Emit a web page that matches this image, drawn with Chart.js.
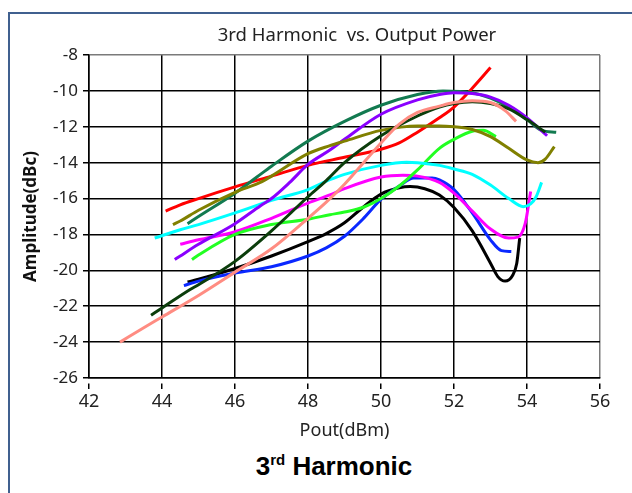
<!DOCTYPE html>
<html>
<head>
<meta charset="utf-8">
<script src="https://cdn.jsdelivr.net/npm/chart.js@4.4.0/dist/chart.umd.min.js"></script>
<style>
  body { margin: 0; background: #fff; width: 632px; height: 493px; overflow: hidden; position: relative; }
  #frame { position: absolute; left: 8px; top: 12px; width: 640px; height: 500px;
    border-left: 2px solid #40608f; border-top: 2px solid #40608f; }
  #wrap { position: absolute; left: 0; top: 0; width: 632px; height: 450px; }
  #title { position: absolute; left: 207px; width: 300px; top: 22px; text-align: center;
    font: 18.5px "Noto Sans", sans-serif; color: #222; line-height: 24px; white-space: pre; }
  #caption { position: absolute; left: 184px; width: 300px; top: 451px; text-align: center;
    font: bold 26px "Liberation Sans", Arial, sans-serif; color: #000; line-height: 30px; }
  #caption sup { font-size: 15px; vertical-align: 10px; line-height: 0; }
</style>
</head>
<body>
<div id="frame"></div>
<div id="wrap"><canvas id="chart" width="632" height="450"></canvas></div>
<div id="title">3rd Harmonic  vs. Output Power</div>
<div id="caption">3<sup>rd</sup> Harmonic</div>
<script>
// Pout (dBm), amplitude (dBc) pairs, one array per curve
var redPts = [[44.1,-16.7],[44.5,-16.35],[45,-16.0],[46,-15.35],[47,-14.75],[48,-14.15],[49,-13.7],[50,-13.25],[50.5,-12.9],[51,-12.3],[51.6,-11.5],[52,-10.9],[52.5,-9.85],[53,-8.7]];
var teal = [[44.7,-17.4],[45,-17.0],[46,-15.7],[46.6,-14.8],[47,-14.2],[48,-12.8],[49,-11.7],[50,-10.8],[51,-10.2],[51.7,-10.0],[52.5,-10.1],[53,-10.4],[53.5,-10.9],[54,-11.6],[54.4,-12.2],[54.8,-12.3]];
var olive = [[44.3,-17.45],[44.5,-17.25],[45,-16.65],[46,-15.65],[46.74,-15.06],[47,-14.75],[48,-13.5],[48.6,-13.05],[49,-12.8],[50,-12.2],[51,-11.95],[51.6,-11.95],[52,-12.0],[52.5,-12.15],[53,-12.55],[53.5,-13.2],[54,-13.85],[54.3,-14.0],[54.5,-13.8],[54.75,-13.1]];
var purple = [[44.35,-19.4],[44.5,-19.2],[45,-18.55],[46,-17.4],[46.7,-16.4],[47,-16.0],[47.5,-15.1],[48,-14.1],[48.6,-13.3],[49,-12.7],[50,-11.3],[51,-10.5],[51.6,-10.2],[52,-10.1],[52.5,-10.15],[53,-10.35],[53.5,-10.8],[54,-11.5],[54.55,-12.5]];
var salmon = [[42.85,-24.0],[43.5,-23.2],[44,-22.6],[45,-21.4],[46,-20.1],[47,-18.8],[48,-17.1],[48.5,-16.2],[49,-15.2],[50,-12.9],[50.5,-11.85],[51,-11.2],[51.6,-10.85],[52,-10.65],[52.5,-10.55],[53,-10.65],[53.4,-11.1],[53.7,-11.7]];
var darkGreen = [[43.7,-22.5],[44,-22.1],[44.77,-21.07],[45,-20.8],[46,-19.5],[47,-17.8],[48,-15.9],[48.5,-15.0],[49,-14.0],[50,-12.5],[51,-11.4],[51.6,-10.9],[52,-10.7],[52.5,-10.6],[53,-10.7],[53.5,-11.0],[54,-11.6],[54.5,-12.3]];
var cyan = [[43.8,-18.2],[44.5,-17.74],[45,-17.45],[46,-16.8],[47,-16.1],[48,-15.5],[48.6,-14.95],[49,-14.65],[50,-14.15],[50.7,-13.98],[51,-14.0],[51.6,-14.15],[52,-14.35],[52.5,-14.65],[53,-15.25],[53.5,-16.0],[53.9,-16.45],[54.1,-16.3],[54.25,-15.9],[54.4,-15.1]];
var magenta = [[44.5,-18.55],[45,-18.3],[46,-17.85],[47,-17.1],[48,-16.25],[48.6,-15.8],[49,-15.45],[50,-14.8],[50.6,-14.7],[51,-14.75],[51.6,-15.1],[52,-15.7],[52.5,-16.7],[53,-17.7],[53.5,-18.2],[53.75,-18.15],[53.95,-17.4],[54.1,-15.6]];
var lime = [[44.82,-19.4],[45,-19.15],[46,-18.0],[47,-17.45],[48,-17.15],[48.6,-16.9],[49,-16.75],[49.5,-16.5],[50,-16.0],[50.5,-15.3],[51,-14.4],[51.6,-13.2],[52,-12.7],[52.5,-12.25],[52.8,-12.2],[53.15,-12.55]];
var black = [[44.7,-20.65],[45,-20.5],[46,-19.9],[47,-19.2],[48,-18.4],[48.5,-17.95],[49,-17.35],[49.5,-16.5],[50,-15.75],[50.5,-15.4],[50.8,-15.33],[51.2,-15.45],[51.6,-15.8],[52,-16.5],[52.5,-17.8],[53,-19.6],[53.2,-20.35],[53.4,-20.6],[53.6,-20.3],[53.72,-19.6],[53.8,-18.2]];
var blue = [[44.6,-20.85],[45,-20.6],[46,-20.15],[47,-19.8],[48,-19.2],[48.5,-18.75],[49,-18.1],[49.5,-17.15],[50,-16.05],[50.5,-15.3],[50.9,-14.85],[51.4,-14.85],[51.6,-14.96],[52,-15.5],[52.5,-16.8],[53,-18.3],[53.3,-18.9],[53.57,-18.95]];

var xMin = 42, xMax = 56, yMin = -26, yMax = -8, step = 2;

function toXY(pts) {
  return pts.map(function (p) { return { x: p[0], y: p[1] }; });
}
function line(pts, color) {
  return {
    data: toXY(pts),
    borderColor: color,
    borderWidth: 3,
    pointRadius: 0,
    fill: false,
    cubicInterpolationMode: "monotone"
  };
}

var edgeColor = "#7a7a7a";
var ctx = document.getElementById("chart").getContext("2d");
var chart = new Chart(ctx, {
  type: "line",
  data: {
    datasets: [
      line(salmon, "#ff8c82"),
      line(darkGreen, "#0b3d0b"),
      line(olive, "#808000"),
      line(purple, "#8a00ff"),
      line(teal, "#127a50"),
      line(cyan, "#00ffff"),
      line(lime, "#22ff22"),
      line(magenta, "#ff00ff"),
      line(blue, "#0a28ff"),
      line(black, "#000000"),
      line(redPts, "#ff0000")
    ]
  },
  options: {
    responsive: false,
    animation: false,
    layout: { padding: { left: 0, right: 32, top: 55, bottom: 0 } },
    plugins: {
      legend: { display: false },
      tooltip: { enabled: false }
    },
    scales: {
      x: {
        type: "linear",
        min: xMin,
        max: xMax,
        afterFit: function (s) { s.height = 72; },
        ticks: { stepSize: step, color: "#222", padding: 2, font: { family: "Noto Sans", size: 18 } },
        grid: {
          color: function (c) { return c.tick && c.tick.value === xMax ? edgeColor : "#000"; },
          lineWidth: 1.5,
          tickLength: 11,
          tickColor: "#000",
          tickBorderDash: [0, 5, 6, 0]
        },
        border: { color: "#000", width: 1.5 },
        title: {
          display: true,
          text: "Pout(dBm)",
          color: "#222",
          font: { family: "Noto Sans", size: 18 },
          padding: { top: 0, bottom: 8 }
        }
      },
      y: {
        min: yMin,
        max: yMax,
        afterFit: function (s) { s.width = 89; },
        ticks: { stepSize: step, color: "#222", padding: 2, font: { family: "Noto Sans", size: 17 } },
        grid: {
          color: function (c) { return c.tick && c.tick.value === yMax ? edgeColor : "#000"; },
          lineWidth: 1.5,
          tickLength: 9,
          tickColor: "#000",
          tickBorderDash: [0, 3, 6, 0]
        },
        border: { color: "#000", width: 1.5 },
        title: {
          display: true,
          text: "Amplitude(dBc)",
          color: "#111",
          font: { family: "Noto Sans", size: 17, weight: "bold" },
          padding: { top: 21, bottom: 0 }
        }
      }
    }
  }
});
</script>
</body>
</html>
